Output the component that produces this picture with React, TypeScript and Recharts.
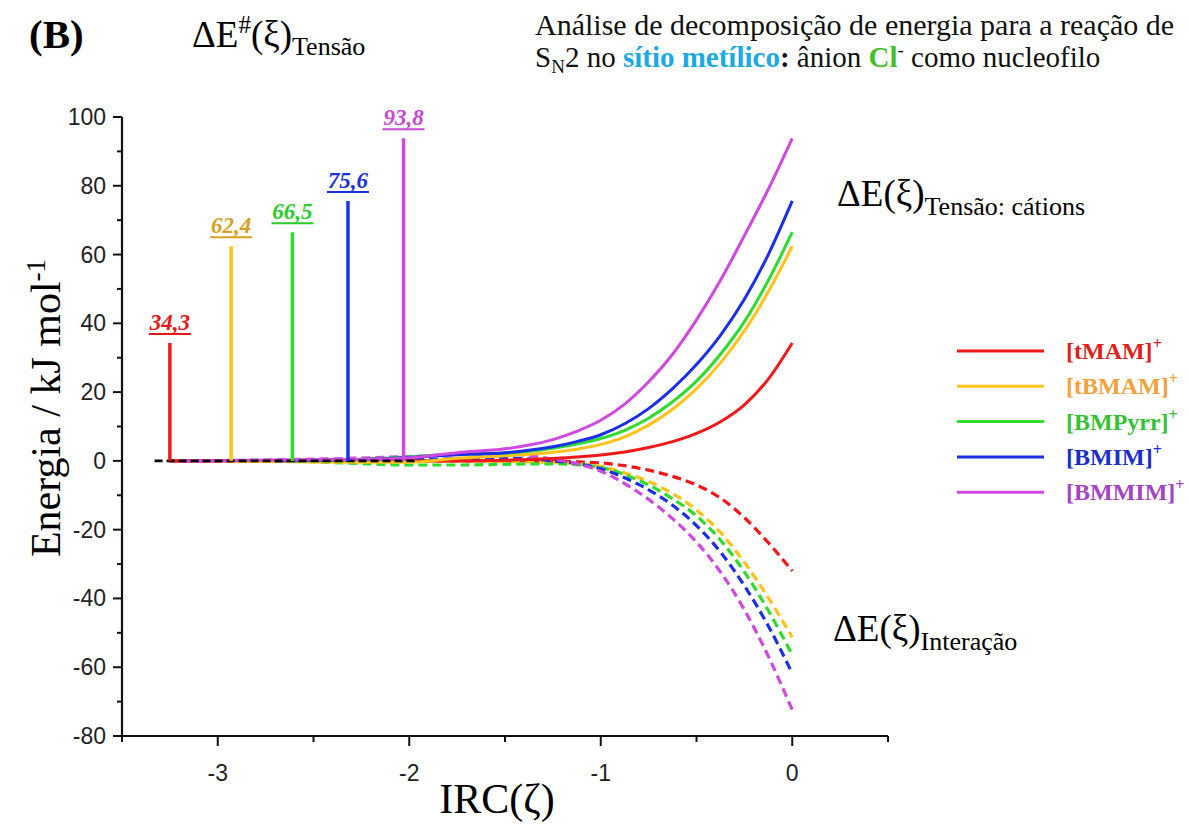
import React from 'react';
import { LineChart, Line, XAxis, YAxis, LabelList } from 'recharts';

const SERIF = "'Liberation Serif','Times New Roman',serif";
const SANS = "'Liberation Sans',Arial,sans-serif";

// categories
const cations = ['[tMAM]', '[tBMAM]', '[BMPyrr]', '[BMIM]', '[BMMIM]'];
const lineColors = ['#F01818', '#FFC21A', '#2EDC2E', '#1A30E6', '#CF48DF'];
const legendTextColors = ['#E01E1E', '#F5A03A', '#34C234', '#1A2ECC', '#A444C4'];
const barrierLabelColors = ['#E81818', '#D6A020', '#28CC28', '#1A30E0', '#C848D0'];

// barrier spikes ΔE#(ξ)Tensão
const barrierX = [-3.25, -2.93, -2.61, -2.32, -2.03];
const barrierValues = [34.3, 62.4, 66.5, 75.6, 93.8];
const barrierLabels = ['34,3', '62,4', '66,5', '75,6', '93,8'];

// reference dashed zero line
const zeroLineX = [-3.33, -1.95];
const zeroLineY = [0, 0];

// [tMAM]+
const ircTMAM = [-3.25, -3.0, -2.5, -2.0, -1.75, -1.5, -1.375, -1.25, -1.125, -1.0, -0.875, -0.75, -0.625, -0.5, -0.375, -0.25, -0.125, 0];
const strainTMAM = [0, 0, 0, 0, 0, 0.2, 0.4, 0.7, 1.1, 1.7, 2.6, 3.9, 5.6, 8.0, 11.4, 16.3, 23.8, 34.3];
const interTMAM = [0, 0, 0, 0, 0, 0, 0, -0.1, -0.3, -0.6, -1.4, -2.7, -4.5, -7.0, -10.8, -16.5, -23.8, -32.0];

// [tBMAM]+
const ircTBMAM = [-2.93, -2.5, -2.0, -1.75, -1.5, -1.375, -1.25, -1.125, -1.0, -0.875, -0.75, -0.625, -0.5, -0.375, -0.25, -0.125, 0];
const strainTBMAM = [0, -0.3, -0.4, 0.8, 1.5, 1.9, 2.5, 3.4, 4.8, 7.0, 10.4, 15.0, 21.0, 28.5, 37.8, 49.2, 62.4];
const interTBMAM = [0, 0.2, 0, 0, -0.2, -0.3, -0.4, -0.8, -1.6, -3.5, -6.0, -9.5, -14.3, -20.8, -29.5, -39.8, -51.3];

// [BMPyrr]+
const ircBMPyrr = [-2.61, -2.25, -2.0, -1.75, -1.5, -1.375, -1.25, -1.125, -1.0, -0.875, -0.75, -0.625, -0.5, -0.375, -0.25, -0.125, 0];
const strainBMPyrr = [0, 0.5, 1.2, 2.0, 2.2, 2.8, 3.7, 4.9, 6.5, 8.9, 12.4, 17.2, 23.2, 31.0, 40.5, 52.5, 66.5];
const interBMPyrr = [0, -0.8, -1.2, -1.2, -1.0, -0.9, -0.9, -1.1, -1.9, -4.0, -7.0, -11.0, -16.0, -23.0, -32.3, -43.5, -56.4];

// [BMIM]+
const ircBMIM = [-2.7, -2.32, -2.0, -1.75, -1.5, -1.375, -1.25, -1.125, -1.0, -0.875, -0.75, -0.625, -0.5, -0.375, -0.25, -0.125, 0];
const strainBMIM = [0, 0.3, 1.0, 1.8, 2.4, 3.1, 4.1, 5.6, 7.6, 10.8, 15.2, 21.0, 28.0, 36.5, 47.0, 60.0, 75.6];
const interBMIM = [0, 0, 0.3, 0.6, 0.8, 0.6, 0, -0.8, -2.3, -4.9, -8.4, -12.9, -18.8, -26.5, -36.3, -48.0, -61.8];

// [BMMIM]+
const ircBMMIM = [-3.2, -2.5, -2.03, -1.75, -1.5, -1.375, -1.25, -1.125, -1.0, -0.875, -0.75, -0.625, -0.5, -0.375, -0.25, -0.125, 0];
const strainBMMIM = [0, 0.3, 0.8, 2.4, 3.5, 4.6, 6.2, 8.6, 11.8, 16.5, 23.0, 31.0, 41.0, 52.5, 65.5, 79.0, 93.8];
const interBMMIM = [0, 0.5, 1.2, 1.8, 2.0, 1.5, 0.5, -0.8, -3.0, -6.6, -11.2, -16.8, -23.6, -32.3, -43.3, -56.8, -72.4];

const ircs = [ircTMAM, ircTBMAM, ircBMPyrr, ircBMIM, ircBMMIM];
const strains = [strainTMAM, strainTBMAM, strainBMPyrr, strainBMIM, strainBMMIM];
const inters = [interTMAM, interTBMAM, interBMPyrr, interBMIM, interBMMIM];

// ticks
const xTicks = [-3.5, -3, -2.5, -2, -1.5, -1, -0.5, 0, 0.5];
const yTicks = [-80, -70, -60, -50, -40, -30, -20, -10, 0, 10, 20, 30, 40, 50, 60, 70, 80, 90, 100];

const zip = (xs: number[], ys: number[]) => xs.map((x, i) => ({ x, y: ys[i] }));

const YTick = (props: any) => {
  const { x, y, payload } = props;
  const v = payload.value;
  const major = v % 20 === 0;
  return (
    <g>
      <line x1={x} x2={x - (major ? 9 : 5)} y1={y} y2={y} stroke="#111" strokeWidth={2} />
      {major && (
        <text x={x - 16} y={y} dy={8} textAnchor="end" fontFamily={SANS} fontSize={23} fill="#222">
          {v}
        </text>
      )}
    </g>
  );
};

const XTick = (props: any) => {
  const { x, y, payload } = props;
  const v = payload.value;
  const major = Number.isInteger(v);
  return (
    <g>
      <line x1={x} x2={x} y1={y} y2={y + (major ? 10 : 6)} stroke="#111" strokeWidth={2} />
      {major && (
        <text x={x} y={y + 45} textAnchor="middle" fontFamily={SANS} fontSize={23} fill="#222">
          {v}
        </text>
      )}
    </g>
  );
};

const makeBarrierLabel = (i: number) => (props: any) => {
  const { x, y, index } = props;
  if (index !== 1) return null;
  return (
    <g>
      <text x={x} y={y - 13} textAnchor="middle" fontFamily={SERIF} fontWeight="bold" fontStyle="italic" fontSize={23} fill={barrierLabelColors[i]}>
        {barrierLabels[i]}
      </text>
      <line x1={x - 21} x2={x + 21} y1={y - 9} y2={y - 9} stroke={barrierLabelColors[i]} strokeWidth={2} />
    </g>
  );
};

export default function App() {
  return (
    <div style={{ position: 'absolute', left: 0, top: 0, width: 1189, height: 825, background: '#fff' }}>
      <LineChart width={1189} height={825} margin={{ top: 117, right: 301, bottom: 49, left: 62 }}>
        <XAxis
          type="number"
          dataKey="x"
          domain={[-3.5, 0.5]}
          ticks={xTicks}
          allowDataOverflow
          height={40}
          tickSize={0}
          tickMargin={0}
          tick={<XTick />}
          axisLine={{ stroke: '#111', strokeWidth: 2.2 }}
          tickLine={false}
        />
        <YAxis
          type="number"
          dataKey="y"
          domain={[-80, 100]}
          ticks={yTicks}
          allowDataOverflow
          width={60}
          tickSize={0}
          tickMargin={0}
          tick={<YTick />}
          axisLine={{ stroke: '#111', strokeWidth: 2.2 }}
          tickLine={false}
        />
        {cations.map((c, i) => (
          <Line
            key={'int' + c}
            data={zip(ircs[i], inters[i])}
            dataKey="y"
            type="monotone"
            stroke={lineColors[i]}
            strokeWidth={3.2}
            strokeDasharray="9 5"
            dot={false}
            isAnimationActive={false}
          />
        ))}
        {cations.map((c, i) => (
          <Line
            key={'str' + c}
            data={zip(ircs[i], strains[i])}
            dataKey="y"
            type="monotone"
            stroke={lineColors[i]}
            strokeWidth={3}
            dot={false}
            isAnimationActive={false}
          />
        ))}
        <Line
          data={zip(zeroLineX, zeroLineY)}
          dataKey="y"
          type="linear"
          stroke="#000"
          strokeWidth={2.8}
          strokeDasharray="8 4"
          dot={false}
          isAnimationActive={false}
        />
        {cations.map((c, i) => (
          <Line
            key={'bar' + c}
            data={[{ x: barrierX[i], y: 0 }, { x: barrierX[i], y: barrierValues[i] }]}
            dataKey="y"
            type="linear"
            stroke={lineColors[i]}
            strokeWidth={3.5}
            dot={false}
            isAnimationActive={false}
          >
            <LabelList dataKey="y" content={makeBarrierLabel(i)} />
          </Line>
        ))}
      </LineChart>
      <svg width={1189} height={825} style={{ position: 'absolute', left: 0, top: 0, pointerEvents: 'none' }}>
        <text x={29} y={48} fontFamily={SERIF} fontWeight="bold" fontSize={41} fill="#000">(B)</text>
        <text x={192} y={47} fontFamily={SERIF} fontSize={37} fill="#000">
          ΔE<tspan fontSize={25} dy={-14}>#</tspan><tspan dy={14}>(ξ)</tspan><tspan fontSize={26} dy={8}>Tensão</tspan>
        </text>
        <text x={535} y={35} fontFamily={SERIF} fontSize={30} fill="#111">Análise de decomposição de energia para a reação de</text>
        <text x={535} y={67} fontFamily={SERIF} fontSize={29} fill="#111">
          S<tspan fontSize={19} dy={6}>N</tspan><tspan dy={-6}>2 no </tspan>
          <tspan fontWeight="bold" fill="#1BA9E1">sítio metílico</tspan>
          <tspan fontWeight="bold">:</tspan>
          <tspan>{' ânion '}</tspan>
          <tspan fontWeight="bold" fill="#44C02A">Cl</tspan>
          <tspan fontSize={19} dy={-11}>-</tspan>
          <tspan dy={11}>{' como nucleofilo'}</tspan>
        </text>
        <text x={837} y={206} fontFamily={SERIF} fontSize={37} fill="#000">
          ΔE(ξ)<tspan fontSize={26} dy={9}>Tensão: cátions</tspan>
        </text>
        <text x={833} y={641} fontFamily={SERIF} fontSize={37} fill="#000">
          ΔE(ξ)<tspan fontSize={26} dy={9}>Interação</tspan>
        </text>
        <text x={0} y={0} transform="translate(60,408) rotate(-90)" textAnchor="middle" fontFamily={SERIF} fontSize={42} fill="#000">
          Energia / kJ mol<tspan fontSize={27} dy={-15}>-1</tspan>
        </text>
        <text x={497} y={813} textAnchor="middle" fontFamily={SERIF} fontSize={42} fill="#000">IRC(ζ)</text>
        {cations.map((c, i) => (
          <g key={'leg' + c}>
            <line x1={957} x2={1044} y1={351 + i * 35.3} y2={351 + i * 35.3} stroke={lineColors[i]} strokeWidth={3} />
            <text x={1066} y={359 + i * 35.3} fontFamily={SERIF} fontWeight="bold" fontSize={24} fill={legendTextColors[i]}>
              {c}<tspan fontSize={16} dy={-10}>+</tspan>
            </text>
          </g>
        ))}
      </svg>
    </div>
  );
}
